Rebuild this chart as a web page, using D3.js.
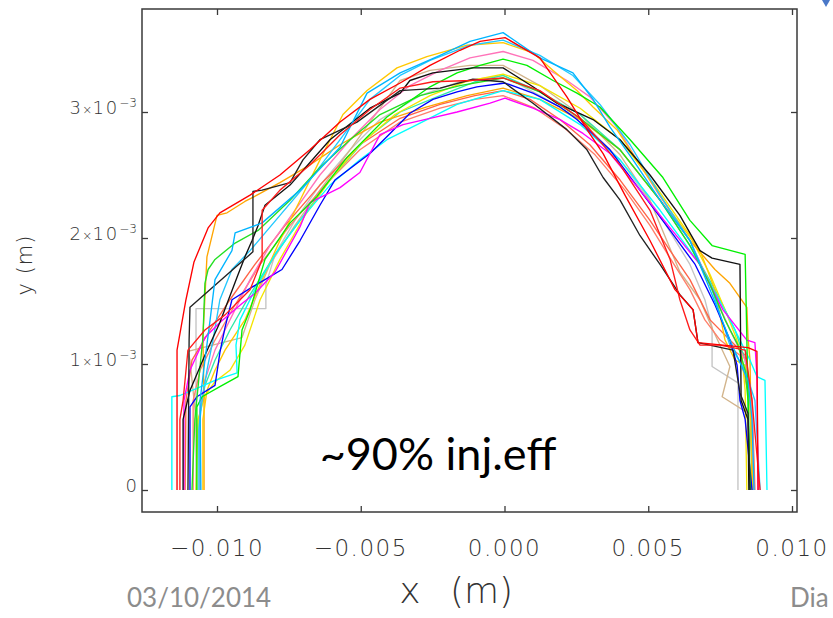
<!DOCTYPE html>
<html><head><meta charset="utf-8">
<script src="https://cdn.jsdelivr.net/npm/d3@7"></script>
<style>body{margin:0;background:#fff;} svg{display:block}</style>
</head><body>
<svg id="c" width="833" height="618"></svg>
<script>
// ---- data (x, y in units of 1e-3 m) ----
const xTicks = [-0.010, -0.005, 0.000, 0.005, 0.010];
const xTickLabels = ["\u22120.010", "\u22120.005", "0.000", "0.005", "0.010"];
const yTicks = [0, 0.001, 0.002, 0.003];
const yTickMantissa = ["0", "1", "2", "3"];

const red1 = [[-11.39,0],[-11.39,1.11],[-11.08,1.51],[-10.80,1.81],[-10.31,2.08],[-9.90,2.20],[-8.85,2.34],[-7.81,2.50],[-6.77,2.70],[-5.72,2.92],[-4.68,3.10],[-3.63,3.23],[-2.59,3.37],[-1.55,3.49],[-0.85,3.56],[0.02,3.59],[1.23,3.43],[2.17,3.12],[2.87,2.86],[3.43,2.67],[4.19,2.34],[5.06,1.98],[5.93,1.59],[6.56,1.43],[6.73,1.17],[8.47,1.13],[8.78,1.10],[8.82,0]];
const deepSky1 = [[-10.56,0],[-10.59,0.71],[-10.42,1.03],[-10.24,1.35],[-10.07,1.67],[-9.48,1.90],[-9.37,2.04],[-8.43,2.12],[-7.11,2.38],[-5.72,2.72],[-4.78,3.15],[-3.63,3.31],[-2.24,3.45],[-1.20,3.56],[-0.05,3.63],[1.23,3.43],[2.38,3.31],[3.08,3.10],[3.67,2.88],[4.47,2.62],[5.41,2.30],[6.45,1.98],[7.15,1.59],[7.84,1.19],[8.47,0.87],[8.61,0.56],[8.68,0]];
const cyan1 = [[-11.57,0],[-11.57,0.74],[-11.29,0.75],[-10.66,0.81],[-10.07,0.87],[-9.30,0.93],[-9.34,1.15],[-9.20,1.35],[-8.68,1.59],[-7.98,1.87],[-7.11,2.14],[-6.07,2.42],[-5.03,2.62],[-4.09,2.78],[-3.04,2.90],[-1.65,3.06],[-0.05,3.17],[1.23,3.10],[2.63,2.90],[4.02,2.62],[5.41,2.22],[6.80,1.79],[7.84,1.35],[8.54,1.03],[8.78,0.90],[9.06,0.87],[9.13,0]];
const blue1 = [[-10.94,0],[-10.94,0.66],[-10.70,0.74],[-10.07,0.83],[-9.97,0.98],[-9.90,1.09],[-9.72,1.29],[-9.48,1.51],[-8.78,1.61],[-8.33,1.67],[-7.74,1.75],[-7.11,1.98],[-6.42,2.26],[-5.90,2.46],[-4.68,2.67],[-3.98,2.83],[-3.29,2.99],[-2.49,3.10],[-1.65,3.16],[-0.96,3.20],[0.02,3.23],[0.99,3.15],[1.93,3.04],[2.52,2.94],[3.67,2.70],[4.71,2.38],[5.76,2.06],[6.63,1.79],[7.32,1.47],[7.84,1.19],[8.09,0.99],[8.19,0.71],[8.37,0.56],[8.61,0]];
const blackA = [[-11.18,0],[-11.18,0.56],[-10.94,0.79],[-10.42,1.07],[-9.90,1.33],[-9.30,1.69],[-9.03,1.85],[-8.78,1.98],[-8.57,2.10],[-8.33,2.26],[-7.46,2.42],[-6.07,2.78],[-4.68,3.03],[-3.63,3.15],[-3.29,3.25],[-2.49,3.31],[-1.10,3.35],[-0.05,3.35],[0.99,3.20],[1.83,3.07],[3.08,2.94],[4.02,2.78],[5.06,2.50],[6.10,2.18],[6.80,1.90],[7.22,1.84],[8.19,1.79],[8.23,0.71],[8.47,0.56],[8.50,0]];
const blackB = [[-11.01,0],[-10.97,1.19],[-10.94,1.45],[-8.75,1.89],[-8.75,2.37],[-8.43,2.38],[-7.46,2.44],[-7.01,2.62],[-6.42,2.78],[-5.13,2.92],[-3.63,3.17],[-2.24,3.19],[-1.10,3.26],[-0.05,3.24],[0.99,3.07],[2.17,2.86],[2.87,2.70],[3.43,2.48],[4.02,2.30],[4.71,2.02],[5.41,1.79],[6.10,1.55],[6.56,1.43],[6.73,1.17],[7.95,1.11],[8.19,0.77],[8.47,0.61],[8.54,0]];
const gray1 = [[-10.73,0],[-10.73,1.44],[-8.30,1.44],[-8.30,1.63],[-7.98,1.87],[-7.29,2.14],[-6.42,2.42],[-5.37,2.70],[-4.33,2.94],[-2.94,3.13],[-1.55,3.24],[-0.05,3.29],[1.23,3.13],[2.63,2.94],[4.02,2.62],[5.41,2.18],[6.45,1.79],[6.97,1.51],[7.22,1.29],[7.22,0.98],[8.12,0.85],[8.12,0]];
const tan1 = [[-10.70,0],[-10.73,0.56],[-10.94,1.03],[-11.01,1.10],[-9.13,1.21],[-8.68,1.51],[-8.16,1.79],[-7.29,2.10],[-6.42,2.38],[-5.37,2.70],[-4.68,2.92],[-3.63,3.25],[-2.59,3.33],[-1.20,3.37],[-0.05,3.37],[1.23,3.21],[2.63,2.98],[4.02,2.66],[5.06,2.30],[6.10,1.73],[6.80,1.51],[7.25,1.27],[7.84,0.98],[7.57,0.74],[8.47,0.61],[8.54,0]];
const gold1 = [[-10.49,0],[-10.49,0.56],[-10.35,0.79],[-10.07,0.95],[-9.72,1.11],[-9.03,1.35],[-8.43,1.67],[-7.81,1.98],[-7.11,2.30],[-6.42,2.62],[-5.62,2.98],[-4.78,3.17],[-3.74,3.35],[-2.70,3.44],[-1.30,3.53],[-0.05,3.55],[0.99,3.47],[1.69,3.33],[2.52,3.17],[3.08,3.04],[3.91,2.86],[4.71,2.58],[5.76,2.22],[6.80,1.90],[7.32,1.59],[7.67,1.19],[8.02,1.03],[8.37,0.99],[8.54,0.71],[8.64,0]];
const pink1 = [[-10.59,0],[-10.59,0.63],[-10.42,0.87],[-10.07,1.11],[-9.55,1.35],[-8.85,1.67],[-8.16,1.94],[-7.29,2.22],[-6.42,2.50],[-5.37,2.78],[-4.33,3.02],[-3.29,3.21],[-2.24,3.33],[-1.20,3.43],[-0.05,3.48],[0.99,3.41],[2.17,3.25],[2.97,3.12],[3.91,2.88],[4.47,2.67],[5.41,2.33],[6.45,1.98],[7.15,1.63],[7.84,1.27],[8.37,1.03],[8.61,0.71],[8.68,0]];
const greenA = [[-10.70,0],[-10.70,0.66],[-10.52,0.74],[-9.90,0.82],[-9.27,0.90],[-9.13,1.27],[-8.85,1.43],[-8.33,1.83],[-7.46,2.12],[-6.52,2.33],[-5.48,2.64],[-4.09,2.96],[-2.59,3.20],[-1.65,3.31],[-0.85,3.37],[-0.05,3.42],[0.78,3.37],[1.69,3.25],[2.52,3.15],[3.32,3.04],[4.37,2.78],[5.51,2.48],[6.45,2.14],[7.22,1.94],[8.37,1.87],[8.43,1.19],[8.54,0]];
const greenB = [[-10.87,0],[-10.77,0.56],[-10.49,1.21],[-10.42,1.64],[-10.31,1.75],[-10.07,1.83],[-9.37,1.96],[-8.57,2.06],[-7.46,2.30],[-6.42,2.56],[-5.37,2.78],[-4.33,2.98],[-2.94,3.13],[-1.55,3.21],[-0.05,3.27],[1.23,3.16],[2.63,2.95],[4.02,2.70],[5.41,2.30],[6.45,1.94],[7.15,1.63],[7.67,1.35],[8.12,1.15],[8.37,0.95],[8.47,0.71],[8.54,0]];
const orange1 = [[-10.45,0],[-10.45,0.71],[-10.49,1.21],[-10.35,1.85],[-10.00,2.18],[-9.65,2.20],[-9.03,2.29],[-8.61,2.34],[-7.81,2.44],[-6.77,2.58],[-5.72,2.74],[-5.03,2.83],[-4.33,2.92],[-2.70,3.04],[-1.30,3.13],[-0.05,3.19],[1.23,3.10],[2.63,2.94],[4.02,2.70],[5.41,2.30],[6.45,1.98],[7.32,1.75],[7.84,1.64],[8.43,1.45],[8.47,1.21],[8.54,1.03],[8.61,0]];
const tomato1 = [[-11.11,0],[-11.08,0.71],[-10.87,1.03],[-10.24,1.27],[-9.55,1.51],[-8.68,1.79],[-7.63,2.10],[-6.42,2.42],[-5.03,2.74],[-3.63,2.95],[-2.24,3.06],[-1.03,3.13],[-0.05,3.17],[0.89,3.10],[1.93,2.94],[2.97,2.74],[4.02,2.46],[5.06,2.14],[5.76,1.90],[6.45,1.67],[7.15,1.35],[7.84,1.19],[8.37,1.07],[8.61,0.71],[8.71,0]];
const red2 = [[-11.29,0],[-11.29,0.56],[-11.18,0.71],[-11.01,1.11],[-10.42,1.27],[-9.72,1.39],[-8.85,1.59],[-8.43,1.83],[-8.43,2.22],[-7.81,2.38],[-6.77,2.58],[-5.72,2.82],[-4.68,3.02],[-3.63,3.19],[-2.49,3.24],[-1.20,3.25],[-0.05,3.27],[1.23,3.17],[2.63,2.95],[4.02,2.58],[5.06,2.22],[5.76,1.83],[6.10,1.51],[6.45,1.27],[6.80,1.15],[7.50,1.15],[8.37,1.11],[8.61,0.71],[8.89,0]];
const magenta1 = [[-11.15,0],[-11.15,0.71],[-10.94,0.95],[-10.42,1.21],[-9.90,1.33],[-9.13,1.48],[-8.68,1.56],[-7.98,1.73],[-7.11,2.09],[-6.77,2.28],[-5.72,2.40],[-5.03,2.52],[-4.33,2.82],[-3.53,2.90],[-2.59,2.95],[-1.65,3.00],[-0.50,3.07],[0.02,3.11],[0.99,3.03],[1.93,2.94],[2.73,2.83],[3.67,2.67],[4.71,2.38],[5.76,2.08],[6.80,1.79],[7.15,1.63],[7.60,1.43],[8.43,1.19],[8.71,1.17],[8.78,0.90],[8.82,0]];
const deepSky2 = [[-10.63,0],[-10.63,0.48],[-10.52,0.71],[-10.35,0.95],[-10.14,1.19],[-9.90,1.51],[-9.48,1.75],[-8.85,1.90],[-7.81,2.18],[-6.77,2.46],[-5.72,2.78],[-4.68,3.10],[-3.63,3.29],[-2.59,3.41],[-1.20,3.53],[-0.05,3.57],[1.23,3.45],[2.38,3.29],[3.32,3.06],[4.37,2.74],[5.41,2.34],[6.45,1.98],[7.22,1.59],[7.84,1.15],[8.37,0.95],[8.71,0.71],[8.89,0]];
const aqua1 = [[-10.59,0],[-10.63,0.56],[-10.42,0.83],[-10.07,1.03],[-9.55,1.27],[-8.85,1.55],[-7.98,1.87],[-7.11,2.14],[-6.07,2.46],[-4.85,2.78],[-3.63,3.00],[-2.24,3.13],[-1.03,3.24],[-0.05,3.29],[1.23,3.16],[2.63,2.98],[4.02,2.70],[5.41,2.30],[6.45,1.94],[7.32,1.59],[8.02,1.27],[8.37,1.03],[8.54,0.71],[8.61,0]];
const salmon1 = [[-10.83,0],[-10.83,0.71],[-10.59,0.95],[-10.07,1.19],[-9.37,1.47],[-8.50,1.79],[-7.46,2.10],[-6.24,2.42],[-5.03,2.70],[-3.63,2.92],[-2.24,3.03],[-1.03,3.10],[-0.05,3.13],[1.06,3.03],[2.10,2.87],[3.15,2.66],[4.19,2.38],[5.06,2.10],[5.76,1.84],[6.45,1.59],[6.97,1.35],[7.50,1.19],[8.19,1.07],[8.54,0.71],[8.64,0]];
const yellow1 = [[-10.73,0],[-10.66,0.56],[-10.42,0.75],[-10.07,0.86],[-9.55,0.95],[-9.03,1.15],[-8.50,1.51],[-7.81,1.83],[-6.94,2.18],[-6.07,2.46],[-5.03,2.74],[-3.81,2.98],[-2.59,3.13],[-1.37,3.24],[-0.05,3.30],[1.23,3.21],[2.63,3.03],[4.02,2.78],[5.23,2.42],[6.45,2.02],[7.15,1.71],[7.67,1.43],[8.02,1.23],[8.26,1.07],[8.37,0.79],[8.43,0]];

const curves = [gray1, tan1, salmon1, tomato1, aqua1, yellow1, pink1, orange1, gold1, deepSky2, cyan1, blue1, magenta1, greenB, greenA, blackA, blackB, deepSky1, red2, red1];
const curveColors = ["#c4c4c4", "#d2b48c", "#ff7f6a", "#ff6347", "#30e8a8", "#f4e400", "#ff73b9", "#ffa500", "#ffc800", "#22c8ff", "#00ffff", "#0000ff", "#ff00ff", "#22e022", "#00f000", "#111111", "#222222", "#00b4ff", "#ff1a1a", "#ff0000"];

// ---- drawing ----
const frame = {l: 142, r: 797, t: 9, b: 512};
const svg = d3.select("#c");
const x = d3.scaleLinear().domain([-0.010, 0.010]).range([217, 792]);
const y = d3.scaleLinear().domain([0, 0.003]).range([490, 112]);
const mm = 1e-3;

const line = d3.line().x(d => x(d[0] * mm)).y(d => y(d[1] * mm));
svg.append("g").selectAll("path").data(curves).join("path")
  .attr("d", line)
  .attr("fill", "none")
  .attr("stroke", (d, i) => curveColors[i])
  .attr("stroke-width", 1.35)
  .attr("stroke-linejoin", "round");

// frame
svg.append("rect").attr("x", frame.l).attr("y", frame.t)
  .attr("width", frame.r - frame.l).attr("height", frame.b - frame.t)
  .attr("fill", "none").attr("stroke", "#3a3a3a").attr("stroke-width", 1.5);

function styleAxis(g) {
  g.select(".domain").remove();
  g.selectAll(".tick line").attr("stroke", "#3a3a3a").attr("stroke-width", 1.3);
  g.selectAll(".tick text").remove();
}
svg.append("g").attr("transform", `translate(0,${frame.b})`)
  .call(d3.axisBottom(x).tickValues(xTicks).tickSize(-6).tickFormat("")).call(styleAxis);
svg.append("g").attr("transform", `translate(0,${frame.t})`)
  .call(d3.axisTop(x).tickValues(xTicks).tickSize(-6).tickFormat("")).call(styleAxis);
svg.append("g").attr("transform", `translate(${frame.l},0)`)
  .call(d3.axisLeft(y).tickValues(yTicks).tickSize(-6).tickFormat("")).call(styleAxis);
svg.append("g").attr("transform", `translate(${frame.r},0)`)
  .call(d3.axisRight(y).tickValues(yTicks).tickSize(-6).tickFormat("")).call(styleAxis);

const thin = "'DejaVu Sans', 'Liberation Sans', sans-serif";
// x tick labels
svg.append("g").selectAll("text").data(xTicks).join("text")
  .attr("x", d => x(d)).attr("y", 556)
  .attr("text-anchor", "middle")
  .attr("font-family", thin).attr("font-weight", 200)
  .attr("font-size", 23).attr("letter-spacing", 1.5)
  .attr("fill", "#333")
  .text((d, i) => xTickLabels[i]);

// y tick labels
const yl = svg.append("g").selectAll("text").data(yTicks).join("text")
  .attr("x", 137).attr("y", d => y(d) + 2)
  .attr("text-anchor", "end")
  .attr("font-family", thin).attr("font-weight", 200)
  .attr("font-size", 18).attr("fill", "#333");
yl.each(function(d, i) {
  const t = d3.select(this);
  if (d === 0) { t.text(yTickMantissa[i]); return; }
  t.append("tspan").text(yTickMantissa[i]);
  t.append("tspan").attr("font-size", 12).attr("dx", 1.5).text("\u00d7");
  t.append("tspan").attr("letter-spacing", 2).text("10");
  t.append("tspan").attr("font-size", 12).attr("dy", -7).text("\u22123");
});

// axis titles
svg.append("text").attr("x", 410).attr("y", 603).attr("text-anchor", "middle")
  .attr("font-family", thin).attr("font-weight", 200).attr("font-size", 36).attr("fill", "#333").text("x");
svg.append("text").attr("x", 450).attr("y", 603).attr("text-anchor", "start")
  .attr("font-family", thin).attr("font-weight", 200).attr("font-size", 36).attr("fill", "#333").text("(m)");
svg.append("text").attr("transform", "translate(32,265) rotate(-90)").attr("text-anchor", "middle")
  .attr("font-family", thin).attr("font-weight", 200).attr("font-size", 21).attr("fill", "#333")
  .attr("letter-spacing", 1).text("y (m)");

// annotation
svg.append("text").attr("x", 438).attr("y", 470).attr("text-anchor", "middle")
  .attr("font-family", "Lato, 'Open Sans', sans-serif").attr("font-size", 45).attr("fill", "#000")
  .text("~90% inj.eff");

// slide footer remnants
svg.append("text").attr("x", 127).attr("y", 607)
  .attr("font-family", "Lato, 'Open Sans', sans-serif").attr("font-size", 26).attr("fill", "#8c8c8c")
  .text("03/10/2014");
svg.append("text").attr("x", 790).attr("y", 607)
  .attr("font-family", "Lato, 'Open Sans', sans-serif").attr("font-size", 26).attr("fill", "#8c8c8c")
  .text("Dia");
svg.append("path").attr("d", d3.line()([[822, 0], [830, 0], [826, 7]]) + "Z").attr("fill", "#4a78c8");
</script>
</body></html>
